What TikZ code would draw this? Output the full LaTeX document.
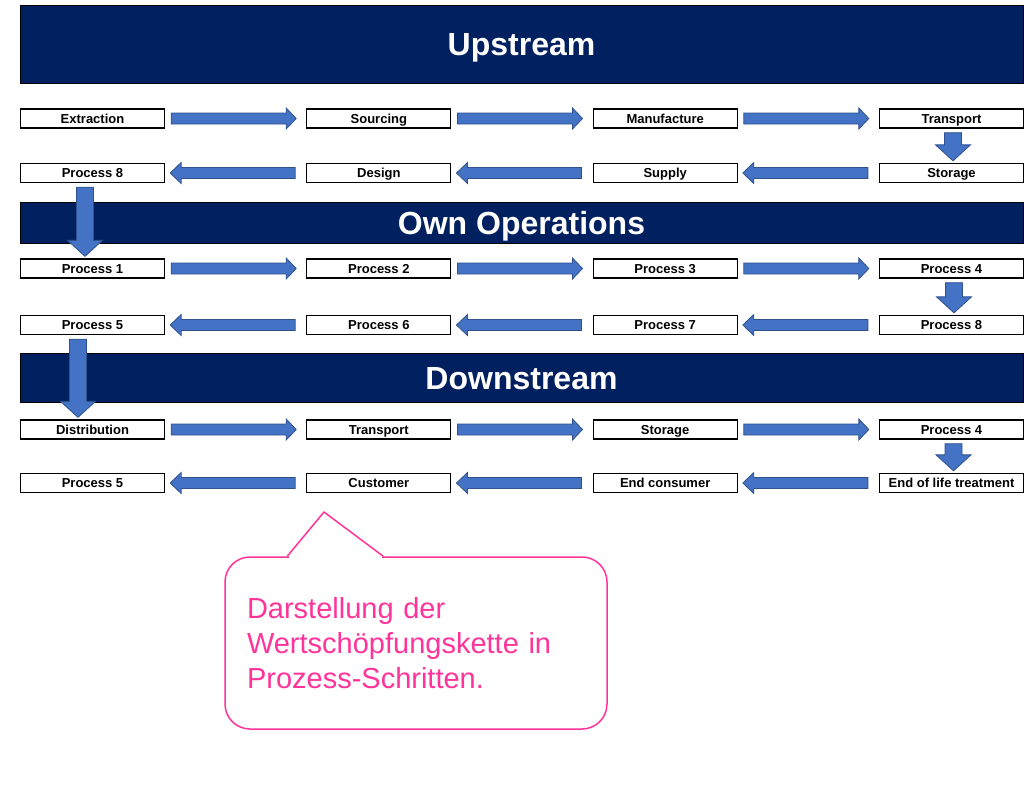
\documentclass[tikz,border=0pt]{standalone}
\usepackage{fontspec}
\setmainfont{Liberation Sans}
\usetikzlibrary{positioning}
\definecolor{headcolor}{RGB}{0,32,96}
\definecolor{arrfill}{RGB}{68,114,196}
\definecolor{arrdraw}{RGB}{47,82,143}
\definecolor{notecolor}{RGB}{255,51,153}

% block arrows between two boxes
\newcommand{\rightarr}[2]{%
  \draw[blockarr] ([shift={(6,-5.5)}]#1.east) -- ([shift={(-20,-5.5)}]#2.west)
    -- ([shift={(-20,-10.5)}]#2.west) -- ([shift={(-10,0)}]#2.west)
    -- ([shift={(-20,10.5)}]#2.west) -- ([shift={(-20,5.5)}]#2.west)
    -- ([shift={(6,5.5)}]#1.east) -- cycle;}
\newcommand{\leftarr}[2]{%
  \draw[blockarr] ([shift={(-11,-5.5)}]#1.west) -- ([shift={(16,-5.5)}]#2.east)
    -- ([shift={(16,-10.5)}]#2.east) -- ([shift={(5,0)}]#2.east)
    -- ([shift={(16,10.5)}]#2.east) -- ([shift={(16,5.5)}]#2.east)
    -- ([shift={(-11,5.5)}]#1.west) -- cycle;}
\newcommand{\downarr}[3][0]{%
  \draw[blockarr] ([shift={(#1-8.5,4)}]#2.south) -- ([shift={(#1-8.5,-18)}]#3.north)
    -- ([shift={(#1-17.5,-18)}]#3.north) -- ([shift={(#1,-2)}]#3.north)
    -- ([shift={(#1+17.5,-18)}]#3.north) -- ([shift={(#1+8.5,-18)}]#3.north)
    -- ([shift={(#1+8.5,4)}]#2.south) -- cycle;}

\begin{document}
\begin{tikzpicture}[%
    x=1pt, y=-1pt,              % pixel-like coordinates, top-down
    node distance=286.33pt,     % column spacing of the boxes
    ]
\tikzset{
  base/.style={draw, align=center, inner sep=0pt},
  box/.style={base, on grid, line width=1.3pt, minimum width=144pt, minimum height=19pt,
    text height=9.5pt, text depth=0pt, font=\fontsize{13}{13}\selectfont\bfseries},
  head/.style={base, line width=1pt, fill=headcolor, text=white, minimum width=1003pt,
    text height=23pt, text depth=0pt, font=\fontsize{32}{32}\selectfont\bfseries},
  blockarr/.style={fill=arrfill, draw=arrdraw, line width=0.8pt},
  note/.style={base, draw=notecolor, text=notecolor, line width=1.5pt, rounded corners=25pt,
    inner xsep=22pt, text width=338pt, minimum height=172pt, align=left,
    font=\fontsize{29}{35}\selectfont},
}
\useasboundingbox (0,0) rectangle (1024,790);

\node [head, minimum height=78pt] (hup) at (521.5,44) {Upstream};
\node [head, minimum height=41pt] (hown) at (521.5,222.5) {Own Operations};
\node [head, minimum height=49pt] (hdown) at (521.5,377.5) {Downstream};

% upstream
\node [box] (u1) at (92.5,118.5) {Extraction};
\node [box,right=of u1] (u2) {Sourcing};
\node [box,right=of u2] (u3) {Manufacture};
\node [box,right=of u3] (u4) {Transport};
\node [box,below=54.5pt of u4] (u5) {Storage};
\node [box,left=of u5] (u6) {Supply};
\node [box,left=of u6] (u7) {Design};
\node [box,left=of u7] (u8) {Process 8};

% own operations
\node [box,below=95.5pt of u8] (o1) {Process 1};
\node [box,right=of o1] (o2) {Process 2};
\node [box,right=of o2] (o3) {Process 3};
\node [box,right=of o3] (o4) {Process 4};
\node [box,below=56.5pt of o4] (o5) {Process 8};
\node [box,left=of o5] (o6) {Process 7};
\node [box,left=of o6] (o7) {Process 6};
\node [box,left=of o7] (o8) {Process 5};

% downstream
\node [box,below=104.5pt of o8] (d1) {Distribution};
\node [box,right=of d1] (d2) {Transport};
\node [box,right=of d2] (d3) {Storage};
\node [box,right=of d3] (d4) {Process 4};
\node [box,below=53.5pt of d4] (d5) {End of life treatment};
\node [box,left=of d5] (d6) {End consumer};
\node [box,left=of d6] (d7) {Customer};
\node [box,left=of d7] (d8) {Process 5};

%connect
\rightarr{u1}{u2} \rightarr{u2}{u3} \rightarr{u3}{u4}
\downarr[1.5]{u4}{u5}
\leftarr{u5}{u6} \leftarr{u6}{u7} \leftarr{u7}{u8}
\downarr[-7.5]{u8}{o1}
\rightarr{o1}{o2} \rightarr{o2}{o3} \rightarr{o3}{o4}
\downarr[2.5]{o4}{o5}
\leftarr{o5}{o6} \leftarr{o6}{o7} \leftarr{o7}{o8}
\downarr[-14.5]{o8}{d1}
\rightarr{d1}{d2} \rightarr{d2}{d3} \rightarr{d3}{d4}
\downarr[2]{d4}{d5}
\leftarr{d5}{d6} \leftarr{d6}{d7} \leftarr{d7}{d8}

% callout
\node [note] (note) at (416,643) {Darstellung der\\Wertschöpfungskette in\\Prozess-Schritten.};
\coordinate (tip) at (324,512);
\draw [white, line width=3pt] ([xshift=64.5pt]note.north west) -- ([xshift=157.5pt]note.north west);
\draw [notecolor, line width=1.5pt, line join=round] ([xshift=63pt]note.north west) -- (tip) -- ([xshift=159pt]note.north west);

\end{tikzpicture}
\end{document}
